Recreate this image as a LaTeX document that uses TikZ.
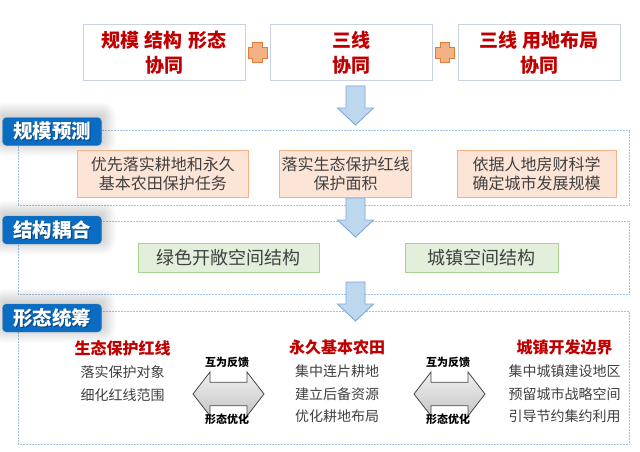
\documentclass[tikz,border=0pt]{standalone}
\usepackage{fontspec}
\setmainfont{Noto Sans CJK SC}
\usetikzlibrary{calc}
\definecolor{topred}{HTML}{C00000}
\definecolor{topborder}{HTML}{C9D3E3}
\definecolor{framecol}{HTML}{9DC3E6}
\definecolor{labelblue}{HTML}{0A6CC2}
\definecolor{labeldark}{HTML}{06457F}
\definecolor{orfill}{HTML}{FCE4D6}
\definecolor{ordraw}{HTML}{F4B183}
\definecolor{grfill}{HTML}{E2EFDA}
\definecolor{grdraw}{HTML}{A9D18E}
\definecolor{plusfill}{HTML}{F4B183}
\definecolor{plusdraw}{HTML}{E07B39}
\definecolor{arrfill}{HTML}{BDD7EE}
\definecolor{arrdraw}{HTML}{7FA8D6}
\definecolor{bodytext}{HTML}{404040}
\tikzset{
  topbox/.style={draw=topborder, line width=1pt, fill=white, minimum width=162pt,
    minimum height=56.5pt, inner sep=0pt, align=center, text=topred,
    font=\bfseries\fontsize{19}{25}\selectfont},
  secframe/.style={draw=framecol, line width=0.9pt, dash pattern=on 1pt off 0.5pt,
    minimum width=611pt, inner sep=0pt},
  seclabel/.style={fill=labelblue, draw=labeldark!70, line width=0.4pt, rounded corners=4pt,
    minimum width=99pt, minimum height=28pt, inner sep=0pt},
  labtext/.style={text=white, font=\bfseries\fontsize{19.5}{22}\selectfont, inner sep=0pt},
  labshadow/.style={text=labeldark, font=\bfseries\fontsize{19.5}{22}\selectfont, inner sep=0pt},
  orbox/.style={draw=ordraw, line width=0.8pt, fill=orfill, minimum height=46.3pt,
    inner sep=0pt, align=center, text=bodytext, font=\fontsize{16}{19}\selectfont},
  grbox/.style={draw=grdraw, line width=0.9pt, fill=grfill, minimum height=29.4pt,
    inner sep=0pt, text=bodytext, font=\fontsize{18}{20}\selectfont},
  headtext/.style={text=topred, font=\bfseries\fontsize{16}{18}\selectfont, inner sep=0pt},
  bodyline/.style={text=bodytext, font=\fontsize{14}{16}\selectfont, inner sep=0pt},
  smalllab/.style={text=black, font=\bfseries\fontsize{11}{12}\selectfont, inner sep=0pt},
  plusshape/.pic={\draw[fill=plusfill, draw=plusdraw, line width=0.8pt]
    (-4.8,-10) -- (4.8,-10) -- (4.8,-5.2) -- (9.5,-5.2) -- (9.5,5.2) -- (4.8,5.2) --
    (4.8,10) -- (-4.8,10) -- (-4.8,5.2) -- (-9.5,5.2) -- (-9.5,-5.2) -- (-4.8,-5.2) -- cycle;},
  downarr/.pic={\draw[fill=arrfill, draw=arrdraw, line width=0.9pt]
    (-9.5,0) -- (9.5,0) -- (9.5,22) -- (18,22) -- (0,39) -- (-18,22) -- (-9.5,22) -- cycle;},
  dblarr/.pic={\draw[top color=gray!12, bottom color=gray!45, draw=gray!55!black, line width=0.8pt]
    (-35.5,0) -- (-18.5,-22) -- (-18.5,-11.7) -- (18.5,-11.7) -- (18.5,-22) -- (35.5,0) --
    (18.5,22) -- (18.5,11.7) -- (-18.5,11.7) -- (-18.5,22) -- cycle;},
  glow/.style={fill=black, opacity=0.022}
}
\begin{document}
\begin{tikzpicture}[x=1pt,y=-1pt]
\useasboundingbox[fill=white] (0,0) rectangle (640,452);

% top row
\node[topbox] (t1) at (164,52.75) {规模\hspace{6pt}结构\hspace{6pt}形态\\协同};
\node[topbox] (t2) at (351,52.75) {三线\\协同};
\node[topbox] (t3) at (539,52.75) {三线\hspace{6pt}用地布局\\协同};
\path ($(t1.east)!0.5!(t2.west)$) pic {plusshape};
\path ($(t2.east)!0.5!(t3.west)$) pic {plusshape};

% section frames
\node[secframe, minimum height=75pt] (f1) at (323.5,167.5) {};
\node[secframe, minimum height=73pt] (f2) at (323.5,257.5) {};
\node[secframe, minimum height=133pt] (f3) at (323.5,377.5) {};

% block arrows between sections
\coordinate (a1) at (355.5,86);
\coordinate (a2) at (355.5,198);
\coordinate (a3) at (355.5,282);
\path (a1) pic {downarr};
\path (a2) pic {downarr};
\path (a3) pic {downarr};

% section labels with soft glow
\foreach \cy/\nm/\txt in {131.5/l1/规模预测, 230/l2/结构耦合, 318/l3/形态统筹}{
  \foreach \g in {2,4,6,8,10,12,14}{
    \fill[glow, rounded corners=\g pt] (52-49.5-\g+2,\cy-14-\g-1) rectangle (52+49.5+\g,\cy+14+\g-4);
  }
  \node[seclabel] (\nm) at (52,\cy) {};
  \node[labshadow] at ([shift={(1,1)}]\nm.center) {\txt};
  \node[labtext] at (\nm.center) {\txt};
}

% section 1 boxes
\node[orbox, minimum width=170.4pt] (o1) at (162.8,173.8) {优先落实耕地和永久\\基本农田保护任务};
\node[orbox, minimum width=131.8pt] (o2) at (345.5,173.8) {落实生态保护红线\\保护面积};
\node[orbox, minimum width=159pt] (o3) at (536.5,173.8) {依据人地房财科学\\确定城市发展规模};

% section 2 boxes
\node[grbox, minimum width=181.6pt] (g1) at (228.8,258) {绿色开敞空间结构};
\node[grbox, minimum width=153pt] (g2) at (481.5,258) {城镇空间结构};

% section 3 columns
\node[headtext] (h1) at (122.6,348) {生态保护红线};
\node[bodyline] (h1a) at (122.6,372) {落实保护对象};
\node[bodyline] (h1b) at (122.6,395) {细化红线范围};

\node[headtext] (h2) at (337,347.5) {永久基本农田};
\node[bodyline] (h2a) at (337,371.5) {集中连片耕地};
\node[bodyline] (h2b) at (337,394) {建立后备资源};
\node[bodyline] (h2c) at (337,416.5) {优化耕地布局};

\node[headtext] (h3) at (564.5,347.5) {城镇开发边界};
\node[bodyline] (h3a) at (564.5,371.5) {集中城镇建设地区};
\node[bodyline] (h3b) at (564.5,394) {预留城市战略空间};
\node[bodyline] (h3c) at (564.5,416.5) {引导节约集约利用};

% double arrows
\coordinate (d1) at (228.5,394);
\coordinate (d2) at (449.5,394);
\path (d1) pic {dblarr};
\path (d2) pic {dblarr};
\node[smalllab] (d1t) at (227,362) {互为反馈};
\node[smalllab] (d1b) at (227,419) {形态优化};
\node[smalllab] (d2t) at (448,362) {互为反馈};
\node[smalllab] (d2b) at (448,419) {形态优化};
\end{tikzpicture}
\end{document}
